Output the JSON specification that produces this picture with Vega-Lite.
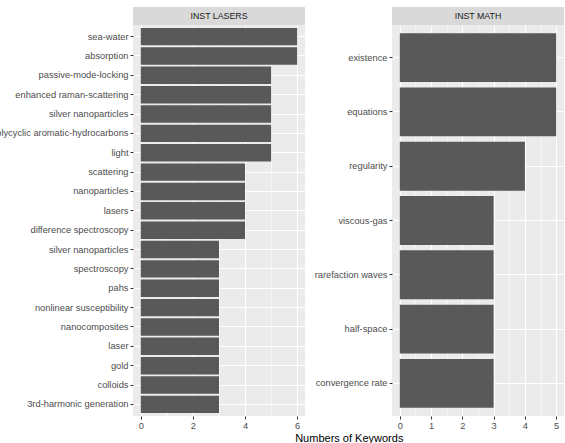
{
  "$schema": "https://vega.github.io/schema/vega-lite/v6.json",
  "background": "white",
  "padding": {"left": -10, "top": 7, "right": 0, "bottom": 0},
  "datasets": {
    "keywords": [
      {"panel": "INST LASERS", "keyword": "sea-water", "count": 6},
      {"panel": "INST LASERS", "keyword": "absorption", "count": 6},
      {"panel": "INST LASERS", "keyword": "passive-mode-locking", "count": 5},
      {"panel": "INST LASERS", "keyword": "enhanced raman-scattering", "count": 5},
      {"panel": "INST LASERS", "keyword": "silver nanoparticles", "count": 5},
      {"panel": "INST LASERS", "keyword": "polycyclic aromatic-hydrocarbons", "count": 5},
      {"panel": "INST LASERS", "keyword": "light", "count": 5},
      {"panel": "INST LASERS", "keyword": "scattering", "count": 4},
      {"panel": "INST LASERS", "keyword": "nanoparticles", "count": 4},
      {"panel": "INST LASERS", "keyword": "lasers", "count": 4},
      {"panel": "INST LASERS", "keyword": "difference spectroscopy", "count": 4},
      {"panel": "INST LASERS", "keyword": "silver  nanoparticles", "count": 3},
      {"panel": "INST LASERS", "keyword": "spectroscopy", "count": 3},
      {"panel": "INST LASERS", "keyword": "pahs", "count": 3},
      {"panel": "INST LASERS", "keyword": "nonlinear susceptibility", "count": 3},
      {"panel": "INST LASERS", "keyword": "nanocomposites", "count": 3},
      {"panel": "INST LASERS", "keyword": "laser", "count": 3},
      {"panel": "INST LASERS", "keyword": "gold", "count": 3},
      {"panel": "INST LASERS", "keyword": "colloids", "count": 3},
      {"panel": "INST LASERS", "keyword": "3rd-harmonic generation", "count": 3},
      {"panel": "INST MATH", "keyword": "existence", "count": 5},
      {"panel": "INST MATH", "keyword": "equations", "count": 5},
      {"panel": "INST MATH", "keyword": "regularity", "count": 4},
      {"panel": "INST MATH", "keyword": "viscous-gas", "count": 3},
      {"panel": "INST MATH", "keyword": "rarefaction waves", "count": 3},
      {"panel": "INST MATH", "keyword": "half-space", "count": 3},
      {"panel": "INST MATH", "keyword": "convergence rate", "count": 3}
    ]
  },
  "config": {
    "font": "Liberation Sans",
    "view": {"stroke": null},
    "axis": {
      "domain": false,
      "labelColor": "#4d4d4d",
      "labelFontSize": 9.3,
      "labelFont": "Liberation Sans",
      "tickColor": "#333333",
      "tickSize": 3,
      "tickWidth": 1,
      "labelPadding": 2,
      "gridColor": "white",
      "title": null
    }
  },
  "title": {
    "text": "Numbers of Keywords",
    "orient": "bottom",
    "anchor": "middle",
    "fontSize": 11,
    "fontWeight": "normal",
    "color": "black",
    "offset": 3,
    "dx": 72
  },
  "spacing": 9,
  "hconcat": [
    {
      "spacing": 0,
      "vconcat": [
        {
          "width": 172,
          "height": 18,
          "data": {"name": "keywords"},
          "transform": [
            {"filter": "datum.panel === 'INST LASERS'"},
            {"aggregate": [{"op": "count", "as": "n"}], "groupby": ["panel"]}
          ],
          "view": {"fill": "#d9d9d9", "stroke": null},
          "mark": {"type": "text", "fontSize": 8.8, "color": "#1a1a1a", "baseline": "middle"},
          "encoding": {
            "x": {"field": "panel", "type": "nominal", "axis": null},
            "text": {"field": "panel"}
          }
        },
        {
          "width": 172,
          "height": 391,
          "data": {"name": "keywords"},
          "transform": [{"filter": "datum.panel === 'INST LASERS'"}],
          "view": {"fill": "#ebebeb", "stroke": null},
          "mark": {"type": "bar", "color": "#595959"},
          "encoding": {
            "y": {
              "field": "keyword",
              "type": "nominal",
              "sort": ["sea-water", "absorption", "passive-mode-locking", "enhanced raman-scattering", "silver nanoparticles", "polycyclic aromatic-hydrocarbons", "light", "scattering", "nanoparticles", "lasers", "difference spectroscopy", "silver  nanoparticles", "spectroscopy", "pahs", "nonlinear susceptibility", "nanocomposites", "laser", "gold", "colloids", "3rd-harmonic generation"],
              "scale": {"paddingInner": 0.1, "paddingOuter": 0.15},
              "axis": {"grid": true, "gridWidth": 1, "bandPosition": 0.5, "labelLimit": 300}
            },
            "x": {
              "field": "count",
              "type": "quantitative",
              "scale": {"domain": [-0.3, 6.3], "nice": false, "zero": false},
              "axis": {
                "values": [0, 1, 2, 3, 4, 5, 6],
                "format": "~g",
                "labelExpr": "datum.value % 2 === 0 ? datum.label : ''",
                "tickOpacity": {"condition": {"test": "datum.value % 2 === 0", "value": 1}, "value": 0},
                "gridWidth": {"condition": {"test": "datum.value % 2 === 0", "value": 1.1}, "value": 0.5},
                "labelFlush": false
              }
            }
          }
        }
      ]
    },
    {
      "spacing": 0,
      "vconcat": [
        {
          "width": 172,
          "height": 18,
          "data": {"name": "keywords"},
          "transform": [
            {"filter": "datum.panel === 'INST MATH'"},
            {"aggregate": [{"op": "count", "as": "n"}], "groupby": ["panel"]}
          ],
          "view": {"fill": "#d9d9d9", "stroke": null},
          "mark": {"type": "text", "fontSize": 8.8, "color": "#1a1a1a", "baseline": "middle"},
          "encoding": {
            "x": {"field": "panel", "type": "nominal", "axis": null},
            "text": {"field": "panel"}
          }
        },
        {
          "width": 172,
          "height": 391,
          "data": {"name": "keywords"},
          "transform": [{"filter": "datum.panel === 'INST MATH'"}],
          "view": {"fill": "#ebebeb", "stroke": null},
          "mark": {"type": "bar", "color": "#595959"},
          "encoding": {
            "y": {
              "field": "keyword",
              "type": "nominal",
              "sort": ["existence", "equations", "regularity", "viscous-gas", "rarefaction waves", "half-space", "convergence rate"],
              "scale": {"paddingInner": 0.1, "paddingOuter": 0.15},
              "axis": {"grid": true, "gridWidth": 1, "bandPosition": 0.5}
            },
            "x": {
              "field": "count",
              "type": "quantitative",
              "scale": {"domain": [-0.25, 5.25], "nice": false, "zero": false},
              "axis": {
                "values": [0, 0.5, 1, 1.5, 2, 2.5, 3, 3.5, 4, 4.5, 5],
                "format": "~g",
                "labelExpr": "datum.value % 1 === 0 ? datum.label : ''",
                "tickOpacity": {"condition": {"test": "datum.value % 1 === 0", "value": 1}, "value": 0},
                "gridWidth": {"condition": {"test": "datum.value % 1 === 0", "value": 1.1}, "value": 0.5},
                "labelFlush": false
              }
            }
          }
        }
      ]
    }
  ]
}
